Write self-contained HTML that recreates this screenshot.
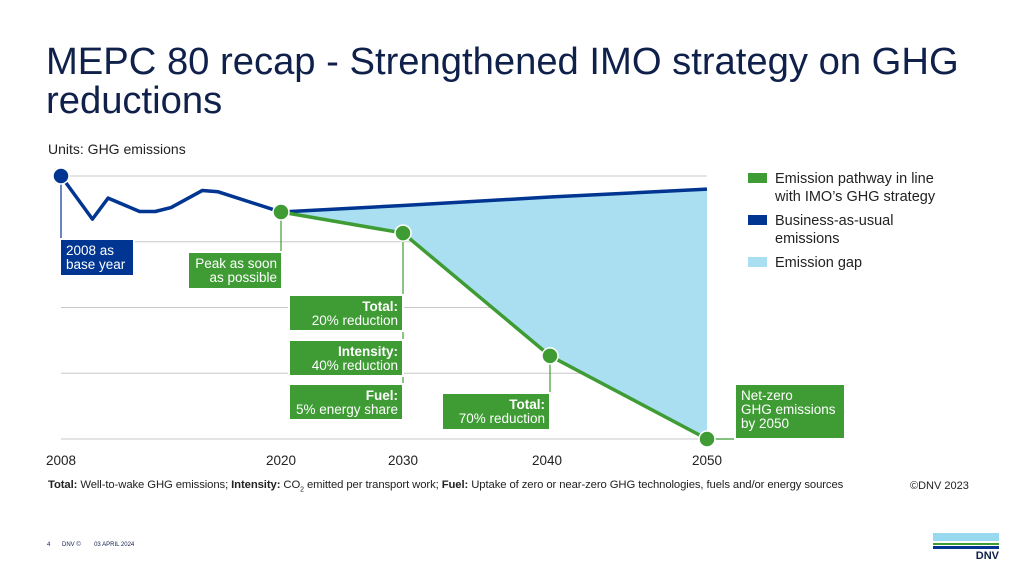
<!DOCTYPE html>
<html><head><meta charset="utf-8"><style>
body{margin:0;width:1024px;height:576px;background:#fff;overflow:hidden;font-family:"Liberation Sans",sans-serif;position:relative}
.t{position:absolute}
</style></head><body>
<div class="t" style="left:46px;top:42px;font-size:38.2px;line-height:39px;color:#0f204b;">MEPC 80 recap - Strengthened IMO strategy on GHG<br>reductions</div>
<div class="t" style="left:48px;top:141px;font-size:14px;color:#222">Units: GHG emissions</div>
<svg id="chart" width="1024" height="576" style="position:absolute;left:0;top:0" font-family="Liberation Sans, sans-serif"></svg>
<div class="t" style="left:48px;top:479px;font-size:11.3px;color:#222;letter-spacing:-0.1px"><b>Total:</b> Well-to-wake GHG emissions; <b>Intensity:</b> CO<sub style="font-size:7px">2</sub> emitted per transport work; <b>Fuel:</b> Uptake of zero or near-zero GHG technologies, fuels and/or energy sources</div>
<div class="t" style="left:910px;top:480px;font-size:11px;color:#222">©DNV 2023</div>
<div class="t" style="left:47px;top:542px;font-size:6px;color:#0f204b">4 &nbsp;&nbsp;&nbsp;&nbsp;&nbsp; DNV © &nbsp;&nbsp;&nbsp;&nbsp;&nbsp;&nbsp; 03 APRIL 2024</div>
<div class="t" style="left:933px;top:533px;width:66px">
<div style="height:8px;background:#99d9f0"></div><div style="height:2px;margin-top:2px;background:#3f9c35"></div><div style="height:3px;margin-top:1px;background:#003591"></div>
<div style="font-size:11px;font-weight:bold;color:#0f204b;text-align:right;margin-top:1px">DNV</div></div>
<script>
const gridValues=[100,75,50,25,0];
const tickYears=[2008,2022,2030,2040,2050];
const tickLabels=["2008","2020","2030","2040","2050"];
const bauYears=[2008,2010,2011,2013,2014,2015,2017,2018,2022,2030,2040,2050];
const bauValues=[100,83.6,91.6,86.5,86.5,88,94.5,94,86.3,88.8,92,95];
const pathYears=[2022,2030,2040,2050];
const pathValues=[86.3,78.3,31.6,0];
const axisYears=[2008,2022,2030,2040,2050];
const axisPx=[61,281,403,550,707];
const svg=document.getElementById('chart');const NS='http://www.w3.org/2000/svg';
function X(y){for(let i=0;i<axisYears.length-1;i++){if(y<=axisYears[i+1]||i===axisYears.length-2){const f=(y-axisYears[i])/(axisYears[i+1]-axisYears[i]);return axisPx[i]+f*(axisPx[i+1]-axisPx[i]);}}}
const Y=v=>439-v*2.63;
function el(t,a,p){const e=document.createElementNS(NS,t);for(const k in a)e.setAttribute(k,a[k]);(p||svg).appendChild(e);return e;}
gridValues.forEach(v=>{const g=el('line',{x1:61,x2:707,y1:Y(v),y2:Y(v),stroke:'#c8c8c8','stroke-width':1});

});
tickYears.forEach((yr,i)=>{const t=el('text',{x:X(yr)-(i===3?3:0),y:465,'text-anchor':'middle','font-size':13.5,fill:'#222'});t.textContent=tickLabels[i];

});
let pts=[];const i0=bauYears.indexOf(2022);
for(let i=i0;i<bauYears.length;i++)pts.push(X(bauYears[i])+','+Y(bauValues[i]));
for(let i=pathYears.length-1;i>=0;i--)pts.push(X(pathYears[i])+','+Y(pathValues[i]));
const gap=el('polygon',{points:pts.join(' '),fill:'#aadff2'});


const bau=el('polyline',{points:bauYears.map((y,i)=>X(y)+','+Y(bauValues[i])).join(' '),fill:'none',stroke:'#003591','stroke-width':3.5,'stroke-linejoin':'round'});


const pl=el('polyline',{points:pathYears.map((y,i)=>X(y)+','+Y(pathValues[i])).join(' '),fill:'none',stroke:'#3f9c35','stroke-width':3.5});


function lead(x,y1,y2,c){const l=el('line',{x1:x,x2:x,y1:y1,y2:y2,stroke:c,'stroke-width':1.2});

}
lead(X(2008),Y(100),240,'#003591');
lead(X(2022),Y(86.3),252,'#3f9c35');
lead(X(2030),Y(78.3),420,'#3f9c35');
lead(X(2040),Y(31.6),430,'#3f9c35');
const nl=el('line',{x1:X(2050),x2:736,y1:439,y2:439,stroke:'#3f9c35','stroke-width':1.2});


function dot(x,y,c){const d=el('circle',{cx:x,cy:y,r:8,fill:c,stroke:'#fff','stroke-width':1.5});

}
dot(X(2008),Y(100),'#003591');
dot(X(2022),Y(86.3),'#3f9c35');dot(X(2030),Y(78.3),'#3f9c35');dot(X(2040),Y(31.6),'#3f9c35');dot(X(2050),Y(0),'#3f9c35');
function box(x,y,w,h,c,lines,anchor,name){const r=el('rect',{x:x,y:y,width:w,height:h,fill:c,stroke:'#fff','stroke-width':2});


lines.forEach((ln,i)=>{const tx=anchor==='end'?x+w-5:x+6;const t=el('text',{x:tx,y:y+16+i*14,'text-anchor':anchor,'font-size':13.5,fill:'#fff','font-weight':ln[1]?'bold':'normal'});t.textContent=ln[0];

});}
box(60,239,74,37,'#003591',[["2008 as"],["base year"]],'start','base-year-box');
box(188,252,94,37,'#3f9c35',[["Peak as soon"],["as possible"]],'end','peak-box');
box(289,295,114,36,'#3f9c35',[["Total:",1],["20% reduction"]],'end','total-2030-box');
box(289,340,114,36,'#3f9c35',[["Intensity:",1],["40% reduction"]],'end','intensity-2030-box');
box(289,384,114,36,'#3f9c35',[["Fuel:",1],["5% energy share"]],'end','fuel-2030-box');
box(442,393,108,37,'#3f9c35',[["Total:",1],["70% reduction"]],'end','total-2040-box');
box(735,384,110,55,'#3f9c35',[["Net-zero"],["GHG emissions"],["by 2050"]],'start','net-zero-box');
const leg=[['#3f9c35',['Emission pathway in line','with IMO’s GHG strategy'],172],['#003591',['Business-as-usual','emissions'],214],['#aadff2',['Emission gap'],256]];
leg.forEach(l=>{const r=el('rect',{x:748,y:l[2]+1,width:19,height:10,fill:l[0]});


l[1].forEach((s,i)=>{const t=el('text',{x:775,y:l[2]+11+i*18,'font-size':14.5,fill:'#222'});t.textContent=s;

});});
</script>
</body></html>
